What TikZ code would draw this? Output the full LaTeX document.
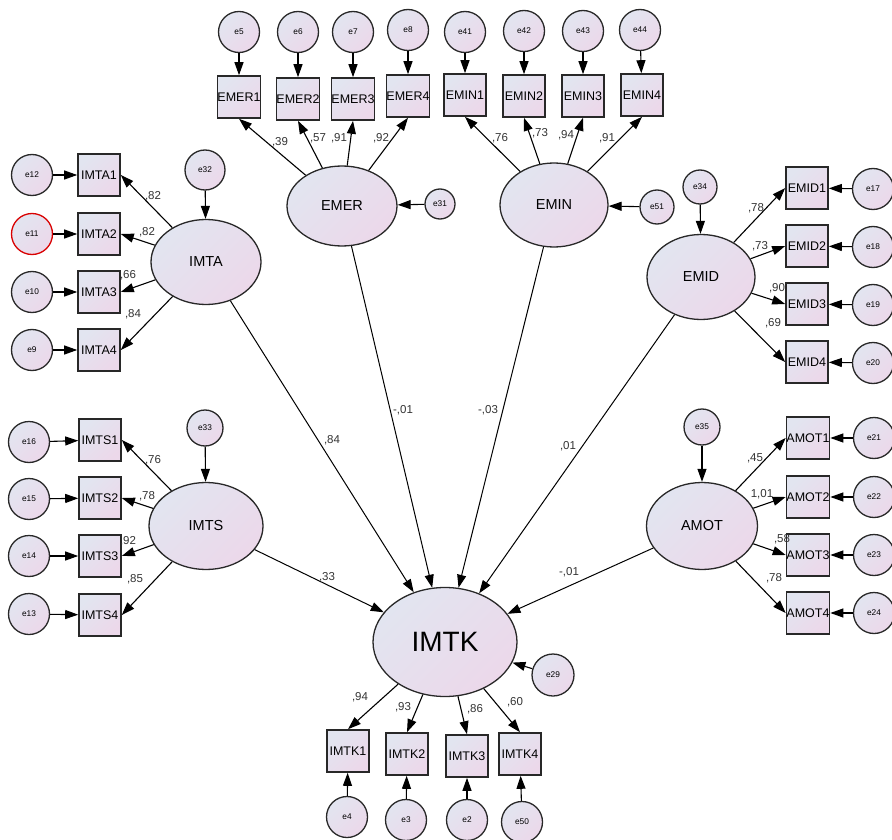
\documentclass[tikz,border=0pt]{standalone}
\usepackage{fontspec}
\setmainfont{Liberation Sans}
\usetikzlibrary{shapes.geometric,arrows.meta}
\definecolor{cA}{RGB}{226,229,240}
\definecolor{cB}{RGB}{236,216,234}
\definecolor{ln}{RGB}{40,40,40}
\tikzset{
  lat/.style={ellipse, draw=ln, line width=1.3pt, top color=cA, bottom color=cB, shading angle=45, inner sep=0pt, font=\fontsize{14.5}{16}\selectfont},
  obs/.style={rectangle, draw=ln, line width=1.6pt, top color=cA, bottom color=cB, shading angle=45, minimum width=42pt, minimum height=42pt, inner sep=0pt, font=\fontsize{12.5}{14}\selectfont},
  err/.style={circle, draw=ln, line width=1.3pt, top color=cA, bottom color=cB, shading angle=45, inner sep=0pt, minimum size=41pt, font=\fontsize{8.3}{9}\selectfont},
  arr/.style={-{Triangle[length=13pt,width=9pt]}, line width=1.1pt, draw=black},
  coef/.style={inner sep=0pt, text=black!80, font=\fontsize{11.5}{12}\selectfont}
}
\begin{document}
\begin{tikzpicture}[x=1pt,y=-1pt]
\useasboundingbox (0,0) rectangle (892,840);
% latent variables
\node[lat, minimum width=110pt, minimum height=80pt] (EMER) at (342,206) {EMER};
\node[lat, minimum width=108pt, minimum height=84pt] (EMIN) at (554,205) {EMIN};
\node[lat, minimum width=110pt, minimum height=85pt] (IMTA) at (206,262) {IMTA};
\node[lat, minimum width=114pt, minimum height=87pt] (IMTS) at (206,526) {IMTS};
\node[lat, minimum width=108pt, minimum height=85pt] (EMID) at (701,277) {EMID};
\node[lat, minimum width=111pt, minimum height=87pt] (AMOT) at (702,526) {AMOT};
\node[lat, minimum width=144pt, minimum height=109pt, font=\fontsize{28}{30}\selectfont] (IMTK) at (445,642) {IMTK};
% observed
\foreach \n/\x/\y in {EMER1/239/97, EMER2/298/99, EMER3/353/99, EMER4/408/96,
  EMIN1/465/95, EMIN2/524/96, EMIN3/583/96, EMIN4/642/95,
  IMTA1/99/175, IMTA2/99/234, IMTA3/99/292, IMTA4/99/350,
  IMTS1/100/440, IMTS2/100/498, IMTS3/100/556, IMTS4/100/615,
  EMID1/807/188, EMID2/807/246, EMID3/807/304, EMID4/807/362,
  AMOT1/808/438, AMOT2/808/497, AMOT3/808/555, AMOT4/808/613,
  IMTK1/348/751, IMTK2/407/754, IMTK3/467/756, IMTK4/520/754}
  {\node[obs] (\n) at (\x,\y) {\n};}
% errors
\foreach \n/\x/\y in {e5/239/32, e6/298/32, e7/353/32, e8/408/30,
  e41/465/32, e42/524/31, e43/583/31, e44/640/30,
  e12/32/175, e10/32/292, e9/32/350,
  e16/29/442, e15/29/499, e14/29/556, e13/29/614,
  e17/873/189, e18/873/247, e19/873/305, e20/873/363,
  e21/874/438, e22/874/497, e23/874/555, e24/874/613,
  e4/347/817, e3/406/820, e2/467/820, e50/522/822}
  {\node[err] (\n) at (\x,\y) {\n};}
\node[err, draw=red!85!black] (e11) at (32,234) {e11};
\node[err, minimum size=30pt] (e31) at (440,204) {e31};
\node[err, minimum size=34pt] (e51) at (657,207) {e51};
\node[err, minimum size=40pt] (e32) at (205,170) {e32};
\node[err, minimum size=36pt] (e33) at (205,428) {e33};
\node[err, minimum size=34pt] (e34) at (700,187) {e34};
\node[err, minimum size=36pt] (e35) at (702,427) {e35};
\node[err, minimum size=42pt] (e29) at (553,675) {e29};
% error arrows
\foreach \e/\t in {e5/EMER1, e6/EMER2, e7/EMER3, e8/EMER4,
  e41/EMIN1, e42/EMIN2, e43/EMIN3, e44/EMIN4,
  e12/IMTA1, e11/IMTA2, e10/IMTA3, e9/IMTA4,
  e16/IMTS1, e15/IMTS2, e14/IMTS3, e13/IMTS4,
  e17/EMID1, e18/EMID2, e19/EMID3, e20/EMID4,
  e21/AMOT1, e22/AMOT2, e23/AMOT3, e24/AMOT4,
  e4/IMTK1, e3/IMTK2, e2/IMTK3, e50/IMTK4,
  e31/EMER, e51/EMIN, e32/IMTA, e33/IMTS, e34/EMID, e35/AMOT, e29/IMTK}
  {\draw[arr] (\e) -- (\t);}
% loadings
\foreach \i in {1,2,3,4} {
  \draw[arr] (EMER) -- (EMER\i.south);
  \draw[arr] (EMIN) -- (EMIN\i.south);
  \draw[arr] (IMTA) -- (IMTA\i.east);
  \draw[arr] (IMTS) -- (IMTS\i.east);
  \draw[arr] (EMID) -- (EMID\i.west);
  \draw[arr] (AMOT) -- (AMOT\i.west);
  \draw[arr] (IMTK) -- (IMTK\i.north);
}
% structural
\foreach \s in {IMTA, EMER, EMIN, EMID, IMTS, AMOT}
  {\draw[arr, line width=1pt] (\s) -- (IMTK);}
% coefficients
\foreach \n/\x/\y/\t in {c1/280/142/{,39}, c2/318/138/{,57}, c3/339/138/{,91}, c4/381/138/{,92},
  c5/500/138/{,76}, c6/540/133/{,73}, c7/566/135/{,94}, c8/607/138/{,91},
  c9/153/196/{,82}, c10/147/232/{,82}, c11/128/275/{,66}, c12/133/314/{,84},
  c13/153/460/{,76}, c14/147/496/{,78}, c15/128/541/{,92}, c16/135/579/{,85},
  c17/756/208/{,78}, c18/760/246/{,73}, c19/777/288/{,90}, c20/773/323/{,69},
  c21/755/458/{,45}, c22/762/494/{1,01}, c23/782/539/{,58}, c24/774/578/{,78},
  c25/360/697/{,94}, c26/403/707/{,93}, c27/475/709/{,86}, c28/515/702/{,60},
  c29/332/440/{,84}, c30/403/410/{-,01}, c31/488/410/{-,03}, c32/568/446/{,01},
  c33/327/577/{,33}, c34/569/572/{-,01}}
  {\node[coef] (\n) at (\x,\y) {\t};}
\end{tikzpicture}
\end{document}
